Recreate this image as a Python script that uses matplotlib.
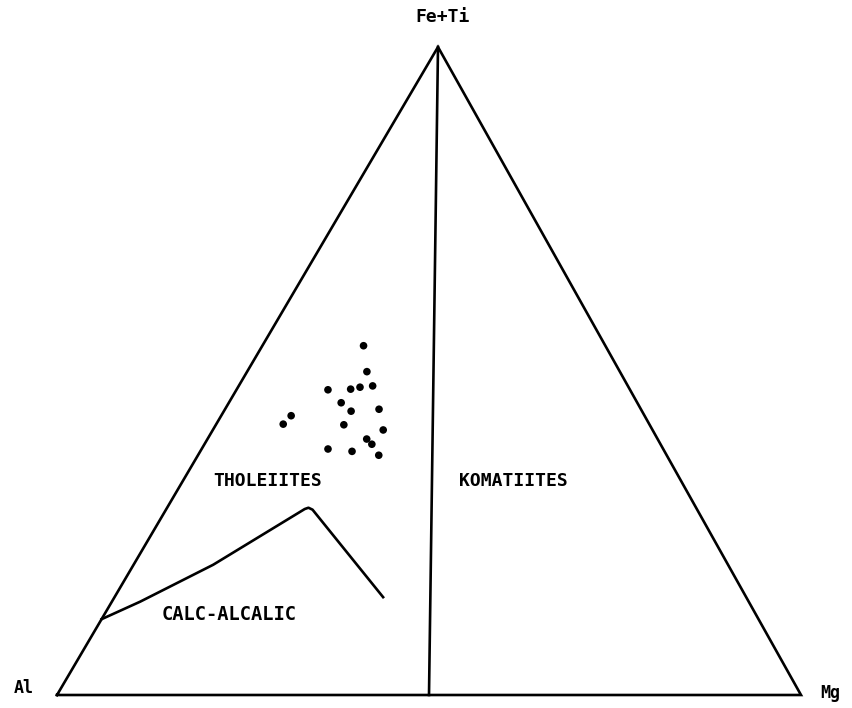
import numpy as np
import matplotlib
matplotlib.use("Agg")
import matplotlib.pyplot as plt

# Jensen cation plot: compositions as cation % (Al, Fe+Ti, Mg)
sample_al = [32.5, 34.0, 34.3, 40.6, 37.5, 36.1, 39.8, 39.1, 35.2, 47.5,
             49.2, 41.1, 36.2, 39.1, 38.8, 45.1, 42.0, 38.7]
sample_feti = [53.9, 49.9, 47.7, 47.1, 47.2, 47.5, 45.1, 43.8, 44.1, 43.1,
               41.8, 41.7, 40.9, 39.5, 38.7, 38.0, 37.6, 37.0]
sample_mg = [13.6, 16.1, 18.0, 12.3, 15.3, 16.4, 15.1, 17.1, 20.7, 9.4,
             9.0, 17.2, 22.9, 21.4, 22.5, 17.0, 20.4, 24.3]

# calc-alkaline / tholeiite boundary
calc_al = [88.3, 81.8, 69.2, 52.7, 52.1, 51.7, 48.8]
calc_feti = [11.7, 14.4, 20.1, 28.7, 28.9, 28.6, 15.1]
calc_mg = [0.0, 3.8, 10.7, 18.6, 19.0, 19.7, 36.1]

# tholeiite / komatiite divider: from apex to Al = Mg
div_al = [0.0, 50.0]
div_feti = [100.0, 0.0]
div_mg = [0.0, 50.0]

# corner positions on the page (pixels)
P_AL = np.array([57.0, 695.0])
P_MG = np.array([801.0, 695.0])
P_FE = np.array([438.0, 47.0])


def to_xy(al, feti, mg):
    al, feti, mg = (np.asarray(v, float) for v in (al, feti, mg))
    tot = al + feti + mg
    a, f, m = al / tot, feti / tot, mg / tot
    x = a * P_AL[0] + f * P_FE[0] + m * P_MG[0]
    y = a * P_AL[1] + f * P_FE[1] + m * P_MG[1]
    return x, y


fig = plt.figure(figsize=(8.52, 7.08), dpi=100)
ax = fig.add_axes([0, 0, 1, 1])
ax.set_xlim(0, 852)
ax.set_ylim(708, 0)
ax.axis("off")

lw = 1.9
tx, ty = to_xy([100, 0, 0, 100], [0, 0, 100, 0], [0, 100, 0, 0])
ax.plot(tx, ty, color="black", lw=lw, solid_joinstyle="miter")

dx, dy = to_xy(div_al, div_feti, div_mg)
ax.plot(dx, dy, color="black", lw=lw)

cx, cy = to_xy(calc_al, calc_feti, calc_mg)
ax.plot(cx, cy, color="black", lw=lw, solid_joinstyle="round")

sx, sy = to_xy(sample_al, sample_feti, sample_mg)
ax.scatter(sx, sy, s=30, color="black", edgecolors="none", zorder=3)

font = dict(family="DejaVu Sans Mono", fontweight="bold", color="black",
            ha="center", va="center")
ax.text(443, 17, "Fe+Ti", fontsize=13, **font)
ax.text(24, 688, "Al", fontsize=12, **font)
ax.text(830, 693, "Mg", fontsize=12, **font)
ax.text(268, 481, "THOLEIITES", fontsize=13, **font)
ax.text(513, 481, "KOMATIITES", fontsize=13, **font)
ax.text(229, 615, "CALC-ALCALIC", fontsize=13.5, **font)

fig.savefig("out.png", dpi=100)
